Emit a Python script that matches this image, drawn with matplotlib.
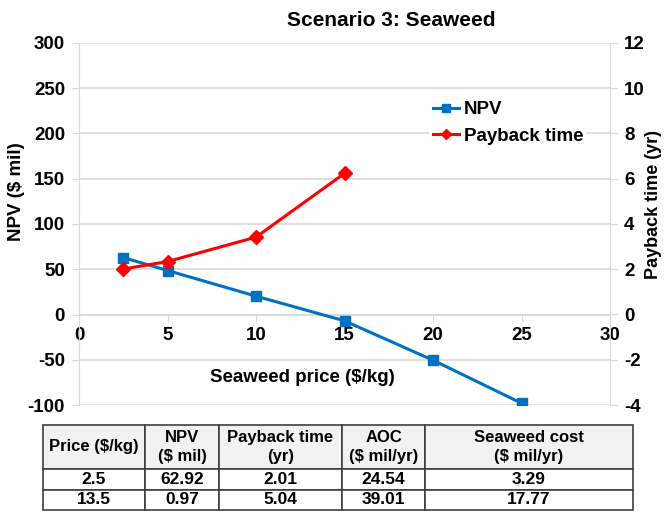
import matplotlib
matplotlib.use("Agg")
from matplotlib import pyplot as plt
from matplotlib.lines import Line2D

plt.rcParams['font.family'] = ['Liberation Sans', 'DejaVu Sans']
plt.rcParams['font.weight'] = 'bold'
plt.rcParams['axes.unicode_minus'] = False

# NPV and payback time vs seaweed price
price = [2.5, 5, 10, 15, 20, 25]
npv = [62.92, 48.6, 20.3, -7.0, -50.5, -98.0]
payback_price = [2.5, 5, 10, 15]
payback = [2.01, 2.34, 3.42, 6.24]

# summary table
col_labels = ["Price ($/kg)", "NPV\n($ mil)", "Payback time\n(yr)", "AOC\n($ mil/yr)", "Seaweed cost\n($ mil/yr)"]
table_rows = [["2.5", "62.92", "2.01", "24.54", "3.29"],
              ["13.5", "0.97", "5.04", "39.01", "17.77"]]

W, H = 665, 514
fig = plt.figure(figsize=(W / 100, H / 100), dpi=100)

grid_col = '#D9D9D9'
ax = fig.add_axes([79 / W, 1 - 405 / H, 531 / W, 362 / H])
ax.plot(price, npv, color='#0070C0', lw=2.2, marker='s', ms=7.5, zorder=3)
ax.set_xlim(0, 30)
ax.set_ylim(-100, 300)
ax.set_xticks(range(0, 31, 5))
ax.set_yticks(range(-100, 301, 50))
ax.yaxis.grid(True, color=grid_col, lw=1.2)
ax.set_axisbelow(True)
ax.spines['top'].set_visible(False)
ax.spines['right'].set_visible(False)
ax.spines['left'].set_color(grid_col)
ax.spines['bottom'].set_position(('data', 0))
ax.spines['bottom'].set_color(grid_col)
ax.spines['bottom'].set_linewidth(1.2)
ax.tick_params(axis='y', length=5, color=grid_col, labelsize=13.5, pad=5)
ax.tick_params(axis='x', length=5, color=grid_col, labelsize=13.5, pad=4)
ax.set_ylabel("NPV ($ mil)", fontsize=13.5, fontweight='bold')
ax.yaxis.set_label_coords((17 - 79) / 531, (405 - 192) / 362)
ax.yaxis.label.set_va('center')
ax.set_xlabel("Seaweed price ($/kg)", fontsize=13.5, fontweight='bold')
ax.xaxis.set_label_coords((302 - 79) / 531, (405 - 377) / 362)
ax.xaxis.label.set_va('center')

ax2 = ax.twinx()
ax2.plot(payback_price, payback, color='#FF0000', lw=2.2, marker='D', ms=7, zorder=3)
ax2.set_ylim(-4, 12)
ax2.set_yticks(range(-4, 13, 2))
for s in ['top', 'bottom', 'left']:
    ax2.spines[s].set_visible(False)
ax2.spines['right'].set_color(grid_col)
ax2.tick_params(axis='y', length=5, color=grid_col, labelsize=13.5, pad=5)
ax2.set_ylabel("Payback time (yr)", fontsize=13, fontweight='bold', rotation=90)
ax2.yaxis.set_label_coords((653 - 79) / 531, (405 - 205) / 362)
ax2.yaxis.label.set_va('center')

handles = [Line2D([], [], color='#0070C0', lw=2.2, marker='s', ms=6),
           Line2D([], [], color='#FF0000', lw=2.2, marker='D', ms=5)]
leg = ax2.legend(handles, ["NPV", "Payback time"], loc='upper left',
                 bbox_to_anchor=((420 - 79) / 531, (405 - 88) / 362),
                 frameon=True, framealpha=1, edgecolor='none', fancybox=False,
                 prop={'size': 13.5, 'weight': 'bold'}, handlelength=1.4,
                 handletextpad=0.25, labelspacing=0.5, borderpad=0.2)

fig.text(391 / W, 1 - 20 / H, "Scenario 3: Seaweed", ha='center', va='center',
         fontsize=15, fontweight='bold')

# table below the chart
tax = fig.add_axes([43 / W, 1 - 510 / H, 590 / W, 85 / H])
tax.axis('off')
col_w = [102, 74, 123, 83, 208]
tbl = tax.table(cellText=[col_labels] + table_rows, cellLoc='center',
                colWidths=[w / sum(col_w) for w in col_w], bbox=[0, 0, 1, 1])
tbl.auto_set_font_size(False)
row_h = [44, 21, 20]
for (r, c), cell in tbl.get_celld().items():
    cell.set_height(row_h[r])
    cell.set_edgecolor('#404040')
    cell.set_linewidth(1.2)
    cell.set_facecolor('#F2F2F2' if r == 0 else 'white')
    t = cell.get_text()
    t.set_fontsize(12.5 if r > 0 else 12)
    t.set_fontweight('bold')
    t.set_linespacing(1.35)

fig.savefig("out.png", dpi=100)
